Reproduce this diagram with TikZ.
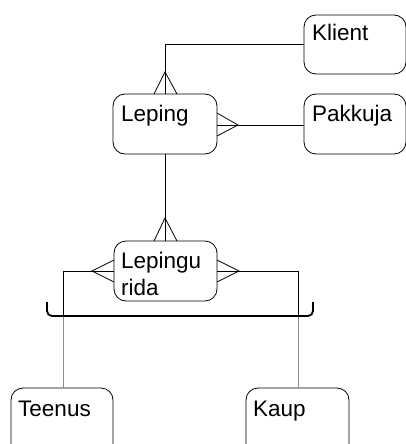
\documentclass[tikz,border=0pt]{standalone}
\usepackage{fontspec}
\setmainfont{Liberation Sans}
\begin{document}
\begin{tikzpicture}[x=1pt,y=-1pt,
  entity/.style={draw,rounded corners=12pt,line width=0.8pt},
  label/.style={anchor=base west,inner sep=0pt,font=\fontsize{22.5}{27}\selectfont},
  link/.style={line width=0.8pt},
  sublink/.style={line width=0.8pt,draw=black!45},
  bracket/.style={line width=1.8pt,rounded corners=5pt}]
\useasboundingbox (0,0) rectangle (406,444);
\clip (0,0) rectangle (406,444);

% entities
\draw[entity] (304,15) rectangle (406,74);
\node[label] (klient) at (312,41) {Klient};
\coordinate (klientW) at (304,44);

\draw[entity] (113,94) rectangle (217,154);
\node[label] (leping) at (121,121) {Leping};

\draw[entity] (304,94) rectangle (406,154);
\node[label] (pakkuja) at (312,121) {Pakkuja};
\coordinate (pakkujaW) at (304,125);

\draw[entity] (114,241) rectangle (217,301);
\node[label] (lrida1) at (121,268) {Lepingu};
\node[label] (lrida2) at (121,295) {rida};

\draw[entity] (11,388) rectangle (113,460);
\node[label] (teenus) at (18,416) {Teenus};

\draw[entity] (246,388) rectangle (349,460);
\node[label] (kaup) at (253,416) {Kaup};

% Klient -- Leping (many at Leping)
\draw[link] (klientW) -| (165,94);
\draw[link] (154,94) -- (165,72) -- (177,94);

% Pakkuja -- Leping (many at Leping)
\draw[link] (pakkujaW) -- (217,125);
\draw[link] (217,113) -- (238,125) -- (217,136);

% Leping -- Lepingu rida (many at Lepingu rida)
\draw[link] (165,154) -- (165,241);
\draw[link] (154,241) -- (165,218) -- (177,241);

% Lepingu rida -- subtypes
\draw[link] (114,271) -- (63,271) -- (63,316);
\draw[link] (114,260) -- (92,271) -- (114,282);
\draw[link] (217,271) -- (298,271) -- (298,316);
\draw[link] (217,260) -- (239,271) -- (217,282);
\draw[sublink] (63,316) -- (63,388);
\draw[sublink] (298,316) -- (298,388);

% subtype bracket
\draw[bracket] (47,302) -- (47,316) -- (313,316) -- (313,302);
\end{tikzpicture}
\end{document}
